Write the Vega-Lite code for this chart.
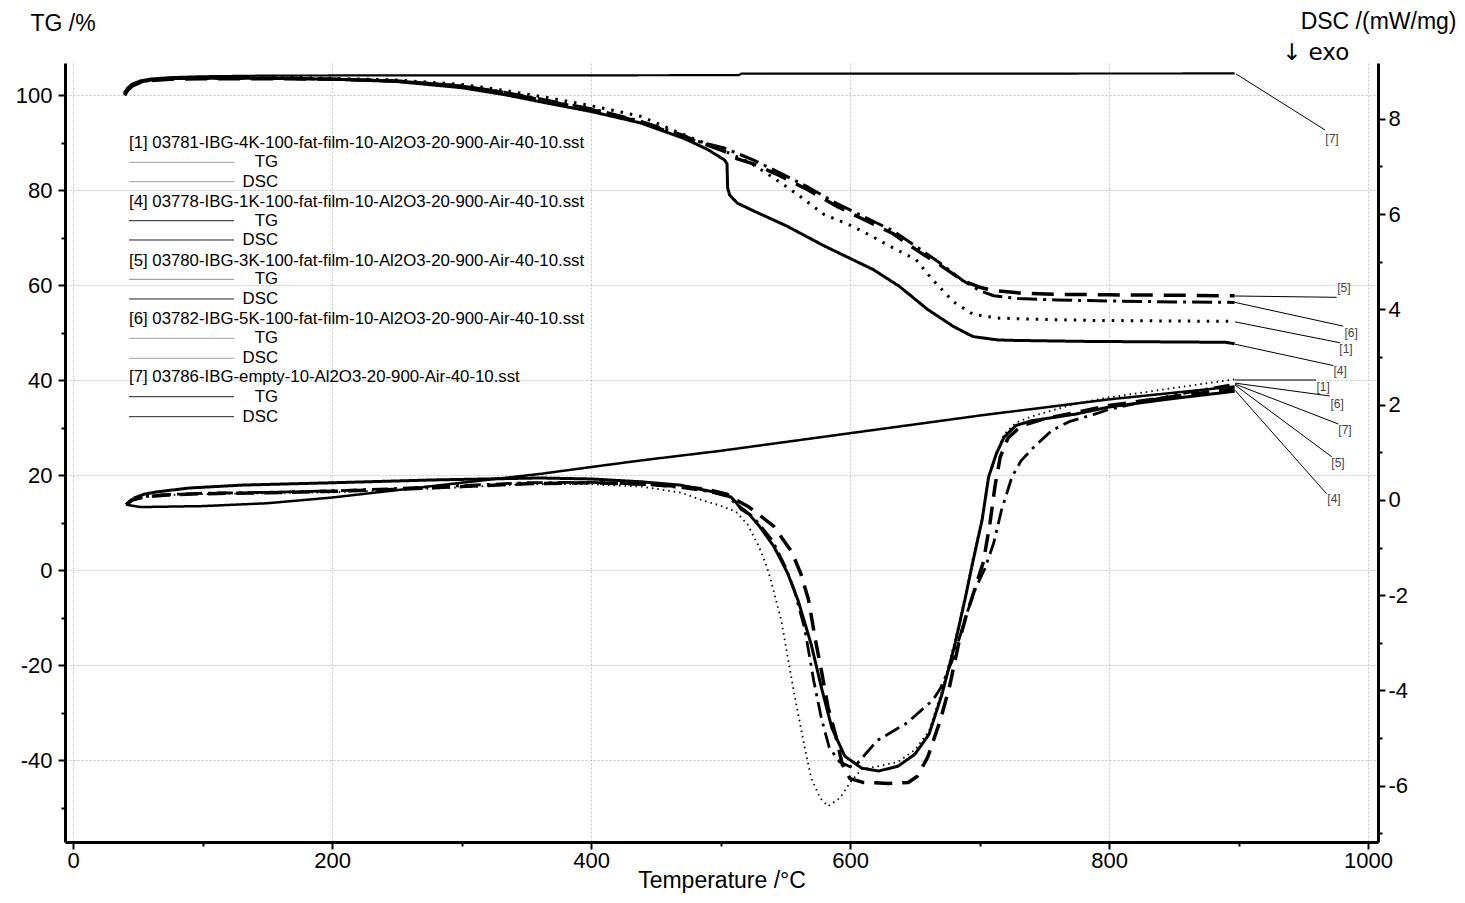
{
"$schema": "https://vega.github.io/schema/vega-lite/v6.json",
"width": 1313, "height": 779,
"autosize": "none",
"padding": {"left": 65, "top": 63, "right": 87, "bottom": 61},
"background": "white",
"config": {"view": {"stroke": null}, "font": "Liberation Sans", "text": {"font": "Liberation Sans"}, "axis": {"labelFont": "Liberation Sans", "titleFont": "Liberation Sans", "labelColor": "black", "titleColor": "black"}},
"datasets": {
"curves": [
{"id":"TG4","T":39.8,"v":100.3},{"id":"TG4","T":42,"v":101.3},{"id":"TG4","T":46,"v":102.2},{"id":"TG4","T":52,"v":102.8},{"id":"TG4","T":60,"v":103.2},{"id":"TG4","T":75,"v":103.5},{"id":"TG4","T":100,"v":103.6},{"id":"TG4","T":150,"v":103.6},{"id":"TG4","T":200,"v":103.4},{"id":"TG4","T":250,"v":102.9},{"id":"TG4","T":300,"v":101.6},{"id":"TG4","T":334,"v":100.1},{"id":"TG4","T":369,"v":98.2},{"id":"TG4","T":400,"v":96.6},{"id":"TG4","T":438,"v":94.2},{"id":"TG4","T":472,"v":90.9},{"id":"TG4","T":490,"v":88.6},{"id":"TG4","T":503,"v":86.4},{"id":"TG4","T":505,"v":85.6},{"id":"TG4","T":505.5,"v":80.5},{"id":"TG4","T":507,"v":79.0},{"id":"TG4","T":513,"v":77.3},{"id":"TG4","T":526,"v":75.6},{"id":"TG4","T":551,"v":72.5},{"id":"TG4","T":580,"v":68.3},{"id":"TG4","T":599,"v":65.8},{"id":"TG4","T":618,"v":63.3},{"id":"TG4","T":638,"v":59.8},{"id":"TG4","T":660,"v":54.9},{"id":"TG4","T":680,"v":51.3},{"id":"TG4","T":695,"v":49.2},{"id":"TG4","T":714,"v":48.5},{"id":"TG4","T":727,"v":48.4},{"id":"TG4","T":778,"v":48.2},{"id":"TG4","T":890,"v":48.0},{"id":"TG4","T":897,"v":47.7},
{"id":"TG1","T":39.8,"v":100.5},{"id":"TG1","T":42,"v":101.5},{"id":"TG1","T":46,"v":102.4},{"id":"TG1","T":52,"v":103.0},{"id":"TG1","T":60,"v":103.4},{"id":"TG1","T":75,"v":103.6},{"id":"TG1","T":100,"v":103.7},{"id":"TG1","T":150,"v":103.8},{"id":"TG1","T":200,"v":103.6},{"id":"TG1","T":250,"v":103.2},{"id":"TG1","T":300,"v":102.3},{"id":"TG1","T":334,"v":101.0},{"id":"TG1","T":369,"v":99.4},{"id":"TG1","T":400,"v":97.8},{"id":"TG1","T":438,"v":95.6},{"id":"TG1","T":471,"v":91.8},{"id":"TG1","T":503,"v":88.3},{"id":"TG1","T":522,"v":85.9},{"id":"TG1","T":535,"v":83.7},{"id":"TG1","T":548,"v":81.3},{"id":"TG1","T":561,"v":78.8},{"id":"TG1","T":580,"v":74.9},{"id":"TG1","T":599,"v":72.8},{"id":"TG1","T":615,"v":70.6},{"id":"TG1","T":631,"v":68.2},{"id":"TG1","T":651,"v":65.4},{"id":"TG1","T":663,"v":61.4},{"id":"TG1","T":680,"v":56.5},{"id":"TG1","T":695,"v":53.9},{"id":"TG1","T":714,"v":53.1},{"id":"TG1","T":750,"v":52.8},{"id":"TG1","T":790,"v":52.6},{"id":"TG1","T":897,"v":52.4},
{"id":"TG5","T":39.8,"v":100.0},{"id":"TG5","T":42,"v":101.0},{"id":"TG5","T":46,"v":102.0},{"id":"TG5","T":52,"v":102.7},{"id":"TG5","T":60,"v":103.1},{"id":"TG5","T":75,"v":103.4},{"id":"TG5","T":100,"v":103.5},{"id":"TG5","T":150,"v":103.5},{"id":"TG5","T":200,"v":103.4},{"id":"TG5","T":250,"v":103.0},{"id":"TG5","T":300,"v":101.9},{"id":"TG5","T":334,"v":100.5},{"id":"TG5","T":369,"v":98.6},{"id":"TG5","T":400,"v":97.0},{"id":"TG5","T":438,"v":94.4},{"id":"TG5","T":472,"v":91.2},{"id":"TG5","T":490,"v":89.5},{"id":"TG5","T":503,"v":88.2},{"id":"TG5","T":513,"v":86.6},{"id":"TG5","T":526,"v":85.5},{"id":"TG5","T":545,"v":83.2},{"id":"TG5","T":568,"v":80.0},{"id":"TG5","T":590,"v":76.6},{"id":"TG5","T":611,"v":73.8},{"id":"TG5","T":633,"v":70.9},{"id":"TG5","T":652,"v":67.3},{"id":"TG5","T":670,"v":64.2},{"id":"TG5","T":687,"v":61.0},{"id":"TG5","T":700,"v":59.6},{"id":"TG5","T":711,"v":58.9},{"id":"TG5","T":730,"v":58.4},{"id":"TG5","T":760,"v":58.1},{"id":"TG5","T":800,"v":58.0},{"id":"TG5","T":850,"v":57.9},{"id":"TG5","T":897,"v":57.8},
{"id":"TG6","T":39.8,"v":100.2},{"id":"TG6","T":42,"v":101.2},{"id":"TG6","T":46,"v":102.1},{"id":"TG6","T":52,"v":102.8},{"id":"TG6","T":60,"v":103.2},{"id":"TG6","T":75,"v":103.5},{"id":"TG6","T":100,"v":103.6},{"id":"TG6","T":150,"v":103.6},{"id":"TG6","T":200,"v":103.4},{"id":"TG6","T":250,"v":103.0},{"id":"TG6","T":300,"v":102.0},{"id":"TG6","T":334,"v":100.6},{"id":"TG6","T":369,"v":98.8},{"id":"TG6","T":400,"v":97.2},{"id":"TG6","T":438,"v":94.6},{"id":"TG6","T":472,"v":91.5},{"id":"TG6","T":481,"v":90.4},{"id":"TG6","T":503,"v":88.9},{"id":"TG6","T":526,"v":86.3},{"id":"TG6","T":545,"v":83.8},{"id":"TG6","T":568,"v":80.6},{"id":"TG6","T":590,"v":77.2},{"id":"TG6","T":611,"v":74.4},{"id":"TG6","T":633,"v":71.5},{"id":"TG6","T":652,"v":68.0},{"id":"TG6","T":670,"v":64.6},{"id":"TG6","T":687,"v":61.0},{"id":"TG6","T":700,"v":58.9},{"id":"TG6","T":711,"v":57.8},{"id":"TG6","T":730,"v":57.2},{"id":"TG6","T":760,"v":56.9},{"id":"TG6","T":800,"v":56.7},{"id":"TG6","T":850,"v":56.5},{"id":"TG6","T":897,"v":56.4},
{"id":"TG7","T":39.8,"v":100.6},{"id":"TG7","T":42,"v":101.6},{"id":"TG7","T":46,"v":102.5},{"id":"TG7","T":52,"v":103.1},{"id":"TG7","T":60,"v":103.5},{"id":"TG7","T":75,"v":103.8},{"id":"TG7","T":100,"v":104.0},{"id":"TG7","T":150,"v":104.15},{"id":"TG7","T":250,"v":104.2},{"id":"TG7","T":400,"v":104.2},{"id":"TG7","T":514,"v":104.25},{"id":"TG7","T":516,"v":104.55},{"id":"TG7","T":897,"v":104.6},
{"id":"DSC4","T":41,"v":-0.1},{"id":"DSC4","T":44,"v":-0.02},{"id":"DSC4","T":48,"v":0.05},{"id":"DSC4","T":55,"v":0.12},{"id":"DSC4","T":65,"v":0.17},{"id":"DSC4","T":90,"v":0.25},{"id":"DSC4","T":130,"v":0.31},{"id":"DSC4","T":200,"v":0.36},{"id":"DSC4","T":280,"v":0.42},{"id":"DSC4","T":360,"v":0.46},{"id":"DSC4","T":400,"v":0.44},{"id":"DSC4","T":439,"v":0.38},{"id":"DSC4","T":469,"v":0.31},{"id":"DSC4","T":494,"v":0.17},{"id":"DSC4","T":508,"v":0.06},{"id":"DSC4","T":512,"v":-0.05},{"id":"DSC4","T":516,"v":-0.2},{"id":"DSC4","T":522,"v":-0.3},{"id":"DSC4","T":530,"v":-0.55},{"id":"DSC4","T":541,"v":-0.97},{"id":"DSC4","T":547,"v":-1.28},{"id":"DSC4","T":552,"v":-1.55},{"id":"DSC4","T":560,"v":-2.12},{"id":"DSC4","T":570,"v":-3.03},{"id":"DSC4","T":578,"v":-3.95},{"id":"DSC4","T":586,"v":-4.79},{"id":"DSC4","T":596,"v":-5.38},{"id":"DSC4","T":609,"v":-5.63},{"id":"DSC4","T":622,"v":-5.69},{"id":"DSC4","T":637,"v":-5.59},{"id":"DSC4","T":650,"v":-5.34},{"id":"DSC4","T":661,"v":-4.92},{"id":"DSC4","T":671,"v":-4.08},{"id":"DSC4","T":681,"v":-3.03},{"id":"DSC4","T":689,"v":-2.06},{"id":"DSC4","T":695,"v":-1.28},{"id":"DSC4","T":702,"v":-0.42},{"id":"DSC4","T":707,"v":0.48},{"id":"DSC4","T":713,"v":0.97},{"id":"DSC4","T":719,"v":1.32},{"id":"DSC4","T":728,"v":1.56},{"id":"DSC4","T":740,"v":1.66},{"id":"DSC4","T":774,"v":1.8},{"id":"DSC4","T":800,"v":1.95},{"id":"DSC4","T":850,"v":2.13},{"id":"DSC4","T":897,"v":2.28},
{"id":"DSC1","T":41,"v":-0.1},{"id":"DSC1","T":45,"v":-0.03},{"id":"DSC1","T":50,"v":0.03},{"id":"DSC1","T":60,"v":0.08},{"id":"DSC1","T":80,"v":0.11},{"id":"DSC1","T":120,"v":0.13},{"id":"DSC1","T":200,"v":0.16},{"id":"DSC1","T":280,"v":0.24},{"id":"DSC1","T":350,"v":0.33},{"id":"DSC1","T":400,"v":0.33},{"id":"DSC1","T":439,"v":0.28},{"id":"DSC1","T":470,"v":0.15},{"id":"DSC1","T":485,"v":0.0},{"id":"DSC1","T":500,"v":-0.12},{"id":"DSC1","T":512,"v":-0.25},{"id":"DSC1","T":521,"v":-0.52},{"id":"DSC1","T":530,"v":-1.0},{"id":"DSC1","T":536,"v":-1.42},{"id":"DSC1","T":539,"v":-1.7},{"id":"DSC1","T":547,"v":-2.54},{"id":"DSC1","T":552,"v":-3.32},{"id":"DSC1","T":557,"v":-4.08},{"id":"DSC1","T":564,"v":-5.06},{"id":"DSC1","T":570,"v":-5.84},{"id":"DSC1","T":577,"v":-6.26},{"id":"DSC1","T":583,"v":-6.43},{"id":"DSC1","T":592,"v":-6.26},{"id":"DSC1","T":601,"v":-5.9},{"id":"DSC1","T":609,"v":-5.65},{"id":"DSC1","T":620,"v":-5.6},{"id":"DSC1","T":637,"v":-5.5},{"id":"DSC1","T":650,"v":-5.25},{"id":"DSC1","T":661,"v":-4.85},{"id":"DSC1","T":671,"v":-4.0},{"id":"DSC1","T":681,"v":-2.95},{"id":"DSC1","T":689,"v":-2.0},{"id":"DSC1","T":695,"v":-1.2},{"id":"DSC1","T":702,"v":-0.35},{"id":"DSC1","T":707,"v":0.5},{"id":"DSC1","T":713,"v":1.0},{"id":"DSC1","T":719,"v":1.38},{"id":"DSC1","T":728,"v":1.62},{"id":"DSC1","T":740,"v":1.75},{"id":"DSC1","T":774,"v":2.02},{"id":"DSC1","T":800,"v":2.15},{"id":"DSC1","T":850,"v":2.35},{"id":"DSC1","T":897,"v":2.53},
{"id":"DSC5","T":41,"v":-0.1},{"id":"DSC5","T":46,"v":0.0},{"id":"DSC5","T":55,"v":0.06},{"id":"DSC5","T":70,"v":0.1},{"id":"DSC5","T":100,"v":0.13},{"id":"DSC5","T":150,"v":0.15},{"id":"DSC5","T":200,"v":0.18},{"id":"DSC5","T":250,"v":0.22},{"id":"DSC5","T":300,"v":0.28},{"id":"DSC5","T":350,"v":0.34},{"id":"DSC5","T":400,"v":0.36},{"id":"DSC5","T":440,"v":0.33},{"id":"DSC5","T":470,"v":0.28},{"id":"DSC5","T":490,"v":0.22},{"id":"DSC5","T":505,"v":0.12},{"id":"DSC5","T":512,"v":0.0},{"id":"DSC5","T":522,"v":-0.15},{"id":"DSC5","T":541,"v":-0.55},{"id":"DSC5","T":555,"v":-1.09},{"id":"DSC5","T":562,"v":-1.55},{"id":"DSC5","T":568,"v":-2.1},{"id":"DSC5","T":573,"v":-2.9},{"id":"DSC5","T":578,"v":-3.6},{"id":"DSC5","T":583,"v":-4.35},{"id":"DSC5","T":589,"v":-4.95},{"id":"DSC5","T":594,"v":-5.55},{"id":"DSC5","T":600,"v":-5.85},{"id":"DSC5","T":610,"v":-5.93},{"id":"DSC5","T":630,"v":-5.95},{"id":"DSC5","T":645,"v":-5.93},{"id":"DSC5","T":652,"v":-5.8},{"id":"DSC5","T":656,"v":-5.6},{"id":"DSC5","T":660,"v":-5.4},{"id":"DSC5","T":665,"v":-5.0},{"id":"DSC5","T":670,"v":-4.6},{"id":"DSC5","T":677,"v":-3.9},{"id":"DSC5","T":684,"v":-3.0},{"id":"DSC5","T":690,"v":-2.4},{"id":"DSC5","T":696,"v":-1.9},{"id":"DSC5","T":703,"v":-1.3},{"id":"DSC5","T":708,"v":-0.5},{"id":"DSC5","T":712,"v":0.3},{"id":"DSC5","T":716,"v":0.9},{"id":"DSC5","T":722,"v":1.3},{"id":"DSC5","T":732,"v":1.55},{"id":"DSC5","T":750,"v":1.7},{"id":"DSC5","T":800,"v":1.98},{"id":"DSC5","T":850,"v":2.17},{"id":"DSC5","T":897,"v":2.33},
{"id":"DSC6","T":41,"v":-0.1},{"id":"DSC6","T":46,"v":0.0},{"id":"DSC6","T":55,"v":0.07},{"id":"DSC6","T":70,"v":0.11},{"id":"DSC6","T":100,"v":0.14},{"id":"DSC6","T":150,"v":0.16},{"id":"DSC6","T":200,"v":0.19},{"id":"DSC6","T":250,"v":0.24},{"id":"DSC6","T":300,"v":0.3},{"id":"DSC6","T":350,"v":0.36},{"id":"DSC6","T":400,"v":0.37},{"id":"DSC6","T":440,"v":0.33},{"id":"DSC6","T":470,"v":0.26},{"id":"DSC6","T":490,"v":0.18},{"id":"DSC6","T":505,"v":0.08},{"id":"DSC6","T":512,"v":-0.08},{"id":"DSC6","T":525,"v":-0.35},{"id":"DSC6","T":540,"v":-0.85},{"id":"DSC6","T":550,"v":-1.4},{"id":"DSC6","T":557,"v":-1.9},{"id":"DSC6","T":565,"v":-2.7},{"id":"DSC6","T":572,"v":-3.8},{"id":"DSC6","T":578,"v":-4.6},{"id":"DSC6","T":584,"v":-5.2},{"id":"DSC6","T":592,"v":-5.5},{"id":"DSC6","T":600,"v":-5.6},{"id":"DSC6","T":605,"v":-5.55},{"id":"DSC6","T":621,"v":-5.05},{"id":"DSC6","T":644,"v":-4.68},{"id":"DSC6","T":664,"v":-4.2},{"id":"DSC6","T":670,"v":-3.95},{"id":"DSC6","T":680,"v":-3.3},{"id":"DSC6","T":690,"v":-2.4},{"id":"DSC6","T":697,"v":-1.85},{"id":"DSC6","T":704,"v":-1.45},{"id":"DSC6","T":711,"v":-0.9},{"id":"DSC6","T":717,"v":-0.21},{"id":"DSC6","T":725,"v":0.48},{"id":"DSC6","T":732,"v":0.82},{"id":"DSC6","T":742,"v":1.11},{"id":"DSC6","T":756,"v":1.46},{"id":"DSC6","T":770,"v":1.65},{"id":"DSC6","T":789,"v":1.8},{"id":"DSC6","T":800,"v":1.9},{"id":"DSC6","T":850,"v":2.2},{"id":"DSC6","T":897,"v":2.43},
{"id":"DSC7","T":41,"v":-0.1},{"id":"DSC7","T":52,"v":-0.15},{"id":"DSC7","T":100,"v":-0.13},{"id":"DSC7","T":150,"v":-0.07},{"id":"DSC7","T":200,"v":0.05},{"id":"DSC7","T":300,"v":0.36},{"id":"DSC7","T":362,"v":0.55},{"id":"DSC7","T":400,"v":0.69},{"id":"DSC7","T":439,"v":0.83},{"id":"DSC7","T":500,"v":1.03},{"id":"DSC7","T":600,"v":1.4},{"id":"DSC7","T":700,"v":1.77},{"id":"DSC7","T":800,"v":2.11},{"id":"DSC7","T":897,"v":2.38}
],
"legendText": [
{"T":43.2,"v":90.02,"text":"[1] 03781-IBG-4K-100-fat-film-10-Al2O3-20-900-Air-40-10.sst","a":"h"},
{"T":158.3,"v":85.89,"text":"TG","a":"r"},
{"T":158.3,"v":81.81,"text":"DSC","a":"r"},
{"T":43.2,"v":77.6,"text":"[4] 03778-IBG-1K-100-fat-film-10-Al2O3-20-900-Air-40-10.sst","a":"h"},
{"T":158.3,"v":73.6,"text":"TG","a":"r"},
{"T":158.3,"v":69.54,"text":"DSC","a":"r"},
{"T":43.2,"v":65.18,"text":"[5] 03780-IBG-3K-100-fat-film-10-Al2O3-20-900-Air-40-10.sst","a":"h"},
{"T":158.3,"v":61.26,"text":"TG","a":"r"},
{"T":158.3,"v":57.12,"text":"DSC","a":"r"},
{"T":43.2,"v":52.84,"text":"[6] 03782-IBG-5K-100-fat-film-10-Al2O3-20-900-Air-40-10.sst","a":"h"},
{"T":158.3,"v":48.84,"text":"TG","a":"r"},
{"T":158.3,"v":44.63,"text":"DSC","a":"r"},
{"T":43.2,"v":40.63,"text":"[7] 03786-IBG-empty-10-Al2O3-20-900-Air-40-10.sst","a":"h"},
{"T":158.3,"v":36.55,"text":"TG","a":"r"},
{"T":158.3,"v":32.34,"text":"DSC","a":"r"}
],
"legendLines": [
{"id":"TG1","T":43.2,"T2":124.3,"v":85.89},{"id":"DSC1","T":43.2,"T2":124.3,"v":81.81},
{"id":"TG4","T":43.2,"T2":124.3,"v":73.6},{"id":"DSC4","T":43.2,"T2":124.3,"v":69.54},
{"id":"TG5","T":43.2,"T2":124.3,"v":61.26},{"id":"DSC5","T":43.2,"T2":124.3,"v":57.12},
{"id":"TG6","T":43.2,"T2":124.3,"v":48.84},{"id":"DSC6","T":43.2,"T2":124.3,"v":44.63},
{"id":"TG7","T":43.2,"T2":124.3,"v":36.55},{"id":"DSC7","T":43.2,"T2":124.3,"v":32.34}
],
"leaders": [
{"T":898.1,"v":104.5,"T2":966.8,"v2":92.7},
{"T":897.3,"v":57.75,"T2":975.8,"v2":57.47},
{"T":897.3,"v":56.4,"T2":980.9,"v2":51.4},
{"T":897.3,"v":52.3,"T2":978.4,"v2":47.9},
{"T":897.3,"v":47.6,"T2":973.2,"v2":43.1},
{"T":897.3,"v":40.06,"T2":959.8,"v2":40.06},
{"T":897.3,"v":39.4,"T2":970.5,"v2":36.7},
{"T":897.3,"v":39.2,"T2":977.1,"v2":30.8},
{"T":897.3,"v":39.0,"T2":971.98,"v2":23.9},
{"T":897.3,"v":37.9,"T2":968.1,"v2":16.1}
],
"leaderLabels": [
{"T":972.2,"v":90.8,"text":"[7]"},
{"T":981.4,"v":59.4,"text":"[5]"},
{"T":986.9,"v":49.96,"text":"[6]"},
{"T":983.0,"v":46.6,"text":"[1]"},
{"T":978.4,"v":42.0,"text":"[4]"},
{"T":965.3,"v":38.6,"text":"[1]"},
{"T":976.1,"v":35.0,"text":"[6]"},
{"T":982.2,"v":29.5,"text":"[7]"},
{"T":976.8,"v":22.6,"text":"[5]"},
{"T":973.7,"v":15.0,"text":"[4]"}
],
"notes": [
{"T":933.6,"v":107.43,"text":"↓ exo"}
]
},
"layer": [
{
"layer": [
{
"data": {"name": "curves"},
"transform": [{"filter": "indexof(datum.id, 'TG') == 0"}],
"mark": {"type": "line", "color": "black", "strokeCap": "butt", "strokeJoin": "round"},
"encoding": {
"x": {"field": "T", "type": "quantitative", "scale": {"domain": [-6.2, 1007.7], "nice": false, "zero": false},
"axis": {"orient": "bottom", "values": [0,100,200,300,400,500,600,700,800,900,1000], "labelExpr": "datum.value % 200 == 0 ? '' + datum.value : ''", "title": "Temperature /°C", "titleFontSize": 23, "titleFontWeight": "normal", "titleY": 45, "titleBaseline": "alphabetic", "labelFontSize": 22, "labelPadding": 1, "labelFlush": false, "labelOverlap": false, "grid": true, "gridColor": "#c4c4c4", "gridDash": [2,2], "gridWidth": 1, "gridOpacity": {"condition": {"test": "datum.value % 200 != 0", "value": 0}, "value": 1}, "tickColor": "black", "tickWidth": 2, "tickSize": {"condition": {"test": "datum.value % 200 == 0", "value": 7}, "value": 4}, "domainColor": "black", "domainWidth": 3}},
"y": {"field": "v", "type": "quantitative", "scale": {"domain": [-57.2, 106.8], "nice": false, "zero": false},
"axis": {"orient": "left", "values": [-50,-40,-30,-20,-10,0,10,20,30,40,50,60,70,80,90,100], "labelExpr": "datum.value % 20 == 0 ? '' + datum.value : ''", "title": "TG /%", "titleAngle": 0, "titleAlign": "left", "titleBaseline": "alphabetic", "titleX": -35, "titleY": -33, "titleFontSize": 23, "titleFontWeight": "normal", "labelFontSize": 22, "labelPadding": 6, "labelOverlap": false, "grid": true, "gridColor": "#c4c4c4", "gridDash": [2,2], "gridWidth": 1, "gridOpacity": {"condition": {"test": "datum.value % 20 != 0", "value": 0}, "value": 1}, "tickColor": "black", "tickWidth": 2, "tickSize": {"condition": {"test": "datum.value % 20 == 0", "value": 7}, "value": 4}, "domainColor": "black", "domainWidth": 3}},
"strokeDash": {"field": "id", "type": "nominal", "legend": null, "scale": {"domain": ["TG1","TG4","TG5","TG6","TG7","DSC1","DSC4","DSC5","DSC6","DSC7"], "range": [[2.5,7],[1,0],[22,11],[20,6,3,6],[1,0],[1.5,4],[1,0],[18,10],[16,6,3,6],[1,0]]}},
"strokeWidth": {"field": "id", "type": "ordinal", "legend": null, "scale": {"type": "ordinal", "domain": ["TG1","TG4","TG5","TG6","TG7","DSC1","DSC4","DSC5","DSC6","DSC7"], "range": [3,3,3.5,3,2.2,1.8,3,3.5,2.8,2.5]}}
}
},
{
"data": {"name": "legendLines"},
"mark": {"type": "rule", "strokeWidth": 1},
"encoding": {
"x": {"field": "T", "type": "quantitative", "scale": {"domain": [-6.2, 1007.7], "nice": false, "zero": false}},
"x2": {"field": "T2"},
"y": {"field": "v", "type": "quantitative", "scale": {"domain": [-57.2, 106.8], "nice": false, "zero": false}},
"color": {"field": "id", "type": "nominal", "legend": null, "scale": {"domain": ["TG1","DSC1","TG4","DSC4","TG5","DSC5","TG6","DSC6","TG7","DSC7"], "range": ["#a0a0a0","#a0a0a0","#222222","#222222","#8c8c8c","#222222","#a0a0a0","#a0a0a0","#222222","#222222"]}}
}
},
{
"data": {"name": "legendText"},
"transform": [{"filter": "datum.a == 'h'"}],
"mark": {"type": "text", "align": "left", "baseline": "middle", "fontSize": 16.8, "color": "black"},
"encoding": {
"x": {"field": "T", "type": "quantitative", "scale": {"domain": [-6.2, 1007.7], "nice": false, "zero": false}},
"y": {"field": "v", "type": "quantitative", "scale": {"domain": [-57.2, 106.8], "nice": false, "zero": false}},
"text": {"field": "text"}
}
},
{
"data": {"name": "legendText"},
"transform": [{"filter": "datum.a == 'r'"}],
"mark": {"type": "text", "align": "right", "baseline": "middle", "fontSize": 16.8, "color": "black"},
"encoding": {
"x": {"field": "T", "type": "quantitative", "scale": {"domain": [-6.2, 1007.7], "nice": false, "zero": false}},
"y": {"field": "v", "type": "quantitative", "scale": {"domain": [-57.2, 106.8], "nice": false, "zero": false}},
"text": {"field": "text"}
}
},
{
"data": {"name": "leaders"},
"mark": {"type": "rule", "strokeWidth": 1, "color": "black"},
"encoding": {
"x": {"field": "T", "type": "quantitative", "scale": {"domain": [-6.2, 1007.7], "nice": false, "zero": false}},
"x2": {"field": "T2"},
"y": {"field": "v", "type": "quantitative", "scale": {"domain": [-57.2, 106.8], "nice": false, "zero": false}},
"y2": {"field": "v2"}
}
},
{
"data": {"name": "leaderLabels"},
"mark": {"type": "text", "align": "center", "baseline": "middle", "fontSize": 12, "color": "#444444"},
"encoding": {
"x": {"field": "T", "type": "quantitative", "scale": {"domain": [-6.2, 1007.7], "nice": false, "zero": false}},
"y": {"field": "v", "type": "quantitative", "scale": {"domain": [-57.2, 106.8], "nice": false, "zero": false}},
"text": {"field": "text"}
}
},
{
"data": {"name": "notes"},
"mark": {"type": "text", "align": "left", "baseline": "alphabetic", "fontSize": 23, "color": "black", "font": "DejaVu Sans"},
"encoding": {
"x": {"field": "T", "type": "quantitative", "scale": {"domain": [-6.2, 1007.7], "nice": false, "zero": false}},
"y": {"field": "v", "type": "quantitative", "scale": {"domain": [-57.2, 106.8], "nice": false, "zero": false}},
"text": {"field": "text"}
}
}
]
},
{
"data": {"name": "curves"},
"transform": [{"filter": "indexof(datum.id, 'DSC') == 0"}],
"mark": {"type": "line", "color": "black", "strokeCap": "butt", "strokeJoin": "round"},
"encoding": {
"x": {"field": "T", "type": "quantitative", "scale": {"domain": [-6.2, 1007.7], "nice": false, "zero": false}},
"y": {"field": "v", "type": "quantitative", "scale": {"domain": [-7.18, 9.17], "nice": false, "zero": false},
"axis": {"orient": "right", "values": [-7,-6,-5,-4,-3,-2,-1,0,1,2,3,4,5,6,7,8], "labelExpr": "datum.value % 2 == 0 ? '' + datum.value : ''", "title": "DSC /(mW/mg)", "titleAngle": 0, "titleAlign": "right", "titleBaseline": "alphabetic", "titleX": 78, "titleY": -35, "titleFontSize": 23, "titleFontWeight": "normal", "labelFontSize": 22, "labelPadding": 3, "labelOverlap": false, "grid": false, "tickColor": "black", "tickWidth": 2, "tickSize": {"condition": {"test": "datum.value % 2 == 0", "value": 7}, "value": 4}, "domainColor": "black", "domainWidth": 3}},
"strokeDash": {"field": "id", "type": "nominal", "legend": null, "scale": {"domain": ["TG1","TG4","TG5","TG6","TG7","DSC1","DSC4","DSC5","DSC6","DSC7"], "range": [[2.5,7],[1,0],[22,11],[20,6,3,6],[1,0],[1.5,4],[1,0],[18,10],[16,6,3,6],[1,0]]}},
"strokeWidth": {"field": "id", "type": "ordinal", "legend": null, "scale": {"type": "ordinal", "domain": ["TG1","TG4","TG5","TG6","TG7","DSC1","DSC4","DSC5","DSC6","DSC7"], "range": [3,3,3.5,3,2.2,1.8,3,3.5,2.8,2.5]}}
}
}
],
"resolve": {"scale": {"y": "independent"}, "axis": {"y": "independent"}}
}
